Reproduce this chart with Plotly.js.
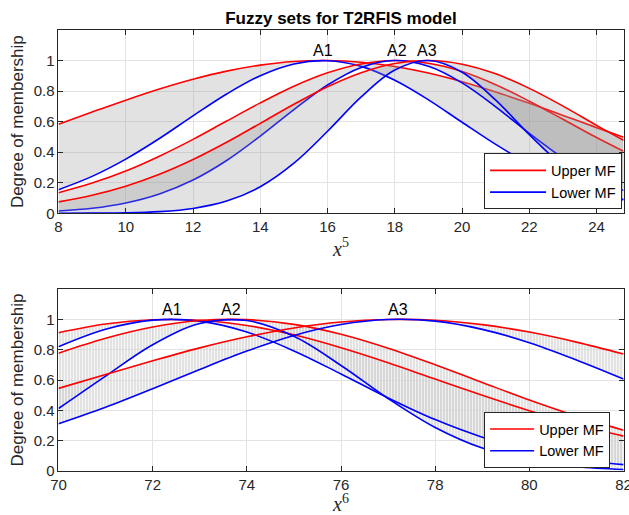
<!DOCTYPE html>
<html><head><meta charset="utf-8">
<script src="https://cdn.plot.ly/plotly-3.0.1.min.js"></script>
<style>html,body{margin:0;padding:0;background:#fff}</style>
</head><body>
<div id="chart" style="width:629px;height:515px"></div>
<script>
// ---- data: top subplot (x^5) ----
const x5 = [8,9,10,11,12,13,14,15,16,17,18,19,20,21,22,23,24,24.8];
const a1Upper5 = [0.583,0.663,0.741,0.814,0.878,0.931,0.970,0.994,1.000,0.989,0.961,0.918,0.861,0.794,0.720,0.641,0.561,0.498];
const a1Lower5 = [0.155,0.242,0.355,0.490,0.638,0.781,0.901,0.978,0.999,0.962,0.871,0.743,0.596,0.451,0.321,0.215,0.135,0.090];
const a2Upper5 = [0.135,0.198,0.277,0.374,0.484,0.604,0.723,0.832,0.920,0.978,1.000,0.982,0.928,0.842,0.734,0.616,0.496,0.406];
const a2Lower5 = [0.015,0.033,0.068,0.127,0.218,0.346,0.506,0.679,0.840,0.955,1.000,0.963,0.854,0.697,0.523,0.361,0.229,0.150];
const a3Upper5 = [0.075,0.118,0.177,0.255,0.352,0.465,0.589,0.714,0.829,0.921,0.981,1.000,0.976,0.913,0.818,0.702,0.576,0.478];
const a3Lower5 = [0.000,0.001,0.003,0.011,0.032,0.080,0.174,0.328,0.537,0.762,0.938,1.000,0.924,0.741,0.515,0.310,0.162,0.087];
const peaks5 = [15.86, 18.05, 18.95];
const xTicks5 = [8,10,12,14,16,18,20,22,24];

// ---- data: bottom subplot (x^6) ----
const x6 = [70,71,72,73,74,75,76,77,78,79,80,81,82];
const a1Upper6 = [0.912,0.969,0.997,0.994,0.960,0.898,0.813,0.714,0.606,0.499,0.398,0.307,0.230];
const a1Lower6 = [0.820,0.935,0.995,0.988,0.916,0.792,0.640,0.482,0.339,0.223,0.136,0.078,0.042];
const a2Upper6 = [0.777,0.875,0.949,0.992,0.998,0.967,0.902,0.810,0.701,0.584,0.468,0.362,0.269];
const a2Lower6 = [0.412,0.626,0.833,0.972,0.992,0.888,0.696,0.478,0.287,0.151,0.070,0.028,0.010];
const a3Upper6 = [0.545,0.637,0.727,0.812,0.885,0.943,0.982,0.999,0.994,0.965,0.916,0.850,0.771];
const a3Lower6 = [0.312,0.421,0.543,0.670,0.791,0.894,0.966,0.999,0.988,0.934,0.846,0.732,0.606];
const peaks6 = [72.4, 73.66, 77.2];
const xTicks6 = [70,72,74,76,78,80,82];

const setNames = ['A1','A2','A3'];
const yTicks = [0,0.2,0.4,0.6,0.8,1];
const legendNames = ['Upper MF','Lower MF'];

// ---- styles ----
const FONT = '"Liberation Sans", Arial, Helvetica, sans-serif';
const SERIF = '"Liberation Serif", "Times New Roman", serif';
const RED = '#ff0000', BLUE = '#0000ff', AX = '#262626';
const LW = 1.6;

const traces = [];
function helperPair(xs, up, lo, xa, ya, fillcolor, pattern) {
  traces.push({x: xs, y: up, xaxis: xa, yaxis: ya, mode: 'lines', line: {width: 0, shape: 'spline'}, showlegend: false, hoverinfo: 'skip'});
  const t = {x: xs, y: lo, xaxis: xa, yaxis: ya, mode: 'lines', line: {width: 0, shape: 'spline'}, fill: 'tonexty', fillcolor: fillcolor, showlegend: false, hoverinfo: 'skip'};
  if (pattern) t.fillpattern = pattern;
  traces.push(t);
}
function linePair(xs, up, lo, xa, ya, legendId, show) {
  traces.push({x: xs, y: up, xaxis: xa, yaxis: ya, mode: 'lines', name: legendNames[0], legend: legendId, showlegend: show, line: {color: RED, width: LW, shape: 'spline'}});
  traces.push({x: xs, y: lo, xaxis: xa, yaxis: ya, mode: 'lines', name: legendNames[1], legend: legendId, showlegend: show, line: {color: BLUE, width: LW, shape: 'spline'}});
}

// top: each set's band drawn over the earlier sets' lines
const up5 = [a1Upper5, a2Upper5, a3Upper5], lo5 = [a1Lower5, a2Lower5, a3Lower5];
for (let k = 0; k < 3; k++) {
  helperPair(x5, up5[k], lo5[k], 'x', 'y', 'rgba(150,150,150,0.28)');
  linePair(x5, up5[k], lo5[k], 'x', 'y', 'legend', k === 0);
}
// bottom: hatched bands first, then lines
const up6 = [a1Upper6, a2Upper6, a3Upper6], lo6 = [a1Lower6, a2Lower6, a3Lower6];
const hatch = {shape: '|', size: 3, solidity: 0.35, fgcolor: 'rgba(175,175,175,0.55)', bgcolor: 'rgba(236,236,236,0.45)'};
for (let k = 0; k < 3; k++) helperPair(x6, up6[k], lo6[k], 'x2', 'y2', 'rgba(225,225,225,0.45)', hatch);
for (let k = 0; k < 3; k++) linePair(x6, up6[k], lo6[k], 'x2', 'y2', 'legend2', k === 0);

const axisCommon = {
  showline: true, mirror: 'ticks', linecolor: AX, linewidth: 1,
  ticks: 'inside', ticklen: 5, tickwidth: 1, tickcolor: AX,
  showgrid: true, gridcolor: '#e3e3e3', gridwidth: 1, zeroline: false,
  tickfont: {family: FONT, size: 15, color: AX}, fixedrange: true,
  ticklabeloverflow: 'allow'
};
const xTitleFont = {family: SERIF, size: 20, color: AX};
const yTitleFont = {family: FONT, size: 17, color: AX};

const annotations = [];
setNames.forEach((n, i) => {
  annotations.push({x: peaks5[i], y: 1.065, xref: 'x', yref: 'y', text: n, showarrow: false, yanchor: 'middle', font: {family: FONT, size: 16, color: '#000'}});
  annotations.push({x: peaks6[i], y: 1.062, xref: 'x2', yref: 'y2', text: n, showarrow: false, yanchor: 'middle', font: {family: FONT, size: 16, color: '#000'}});
});

const legendStyle = {
  bgcolor: '#ffffff', bordercolor: AX, borderwidth: 1,
  font: {family: FONT, size: 14.5, color: '#000'},
  xanchor: 'right', yanchor: 'middle', tracegroupgap: 0,
  traceorder: 'normal'
};

const layout = {
  width: 629, height: 515,
  margin: {l: 0, r: 0, t: 0, b: 0},
  paper_bgcolor: '#fff', plot_bgcolor: '#fff',
  title: {text: 'Fuzzy sets for T2RFIS model', x: 0.542, xanchor: 'center', y: 0.9645, yanchor: 'middle', xref: 'paper', yref: 'paper',
          font: {family: FONT, size: 17, weight: 'bold', color: '#000'}},
  xaxis: Object.assign({}, axisCommon, {domain: [0.093, 0.9913], range: [8, 24.8], tickvals: xTicks5, anchor: 'y',
          title: {text: '<i>x</i><sup>5</sup>', font: xTitleFont, standoff: 0}}),
  yaxis: Object.assign({}, axisCommon, {domain: [0.5858, 0.9417], range: [0, 1.2], tickvals: yTicks, anchor: 'x',
          title: {text: 'Degree of membership', font: yTitleFont, standoff: 5}}),
  xaxis2: Object.assign({}, axisCommon, {domain: [0.093, 0.9913], range: [70, 82], tickvals: xTicks6, anchor: 'y2',
          title: {text: '<i>x</i><sup>6</sup>', font: xTitleFont, standoff: 2}}),
  yaxis2: Object.assign({}, axisCommon, {domain: [0.0854, 0.4388], range: [0, 1.2], tickvals: yTicks, anchor: 'x2',
          title: {text: 'Degree of membership', font: yTitleFont, standoff: 5}}),
  legend: Object.assign({}, legendStyle, {x: 0.989, y: 1 - 181.4 / 515, itemwidth: 56}),
  legend2: Object.assign({}, legendStyle, {x: 0.970, y: 1 - 440 / 515, itemwidth: 44}),
  annotations: annotations,
  showlegend: true
};

Plotly.newPlot('chart', traces, layout, {displayModeBar: false, staticPlot: true});
</script>
</body></html>
